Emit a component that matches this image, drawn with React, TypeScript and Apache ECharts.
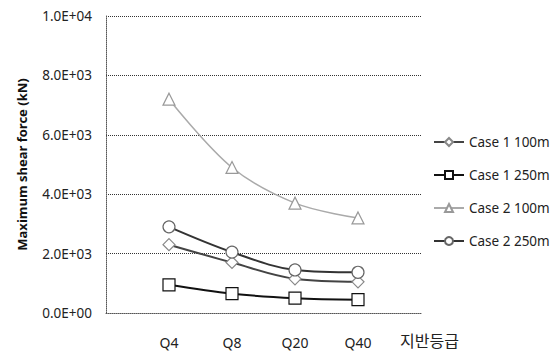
import React, { useEffect, useRef } from "react";
import * as echarts from "echarts";

const categories = ["", "Q4", "Q8", "Q20", "Q40", ""];
const case1_100m = [null, 2300, 1700, 1150, 1050, null];
const case1_250m = [null, 950, 650, 500, 450, null];
const case2_100m = [null, 7200, 4900, 3700, 3200, null];
const case2_250m = [null, 2900, 2050, 1450, 1370, null];
const yTicks = { min: 0, max: 10000, interval: 2000 };
const xAxisTitle = "지반등급";
const yAxisTitle = "Maximum shear force (kN)";

function fmt(v: number): string {
  if (v === 0) return "0.0E+00";
  const e = Math.floor(Math.log10(Math.abs(v)));
  const m = v / Math.pow(10, e);
  return m.toFixed(1) + "E+" + String(e).padStart(2, "0");
}

export default function App() {
  const ref = useRef<HTMLDivElement>(null);
  useEffect(() => {
    document.body.style.margin = "0";
    if (!ref.current) return;
    const chart = echarts.init(ref.current, null, { renderer: "svg" });
    const font = "'Noto Sans', sans-serif";
    const mk = (name: string, data: any[], symbol: string, size: number, lineColor: string, markColor: string, width: number) => ({
      name,
      type: "line",
      data,
      smooth: 0.35,
      symbol,
      symbolSize: size,
      showSymbol: true,
      connectNulls: false,
      lineStyle: { color: lineColor, width },
      itemStyle: { color: "#fff", borderColor: markColor, borderWidth: 1.2 },
    });
    chart.setOption({
      animation: false,
      backgroundColor: "#fff",
      textStyle: { fontFamily: font },
      grid: { left: 106, right: 135, top: 16, bottom: 40 },
      legend: {
        orient: "vertical",
        left: 428,
        top: 130,
        itemGap: 19,
        itemWidth: 30,
        itemHeight: 10,
        textStyle: { fontSize: 13.5, color: "#222", fontFamily: font },
        data: ["Case 1 100m", "Case 1 250m", "Case 2 100m", "Case 2 250m"],
      },
      xAxis: {
        type: "category",
        data: categories,
        boundaryGap: false,
        axisLine: { show: true, lineStyle: { color: "#555", type: "dotted", width: 1 } },
        axisTick: { show: false },
        axisLabel: { fontSize: 14, color: "#222", margin: 22, fontFamily: font },
        splitLine: { show: false },
      },
      yAxis: {
        type: "value",
        min: yTicks.min,
        max: yTicks.max,
        interval: yTicks.interval,
        name: yAxisTitle,
        nameLocation: "middle",
        nameGap: 78,
        nameTextStyle: { fontSize: 13, fontWeight: "bold", color: "#111", fontFamily: font },
        axisLine: { show: true, lineStyle: { color: "#555", type: "dotted", width: 1 } },
        axisTick: { show: false },
        axisLabel: { formatter: (v: number) => fmt(v), fontSize: 13.5, color: "#222", margin: 14, fontFamily: font },
        splitLine: { show: true, lineStyle: { color: "#333", type: "dotted", width: 1 } },
      },
      series: [
        mk("Case 1 100m", case1_100m, "diamond", 12, "#444", "#888", 2),
        mk("Case 1 250m", case1_250m, "rect", 12, "#111", "#111", 2),
        mk("Case 2 100m", case2_100m, "triangle", 12, "#aaa", "#999", 1.5),
        mk("Case 2 250m", case2_250m, "circle", 12, "#333", "#666", 2),
      ],
      graphic: [
        {
          type: "text",
          left: 400,
          top: 332,
          style: { text: xAxisTitle, fontSize: 16, fill: "#222", fontFamily: "'Noto Sans CJK KR', sans-serif" },
        },
      ],
    });
    return () => chart.dispose();
  }, []);
  return <div ref={ref} style={{ width: 556, height: 353 }} />;
}
